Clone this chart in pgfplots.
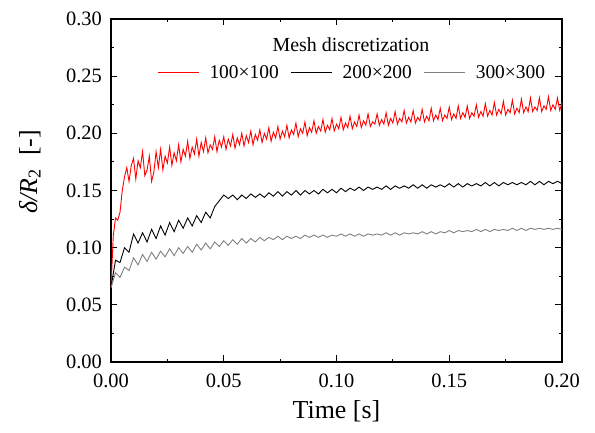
\documentclass[border=0pt]{standalone}
\usepackage{fontspec}
\setmainfont{Liberation Serif}
\usepackage{pgfplots}
\usepackage{pgfplotstable}
\pgfplotsset{compat=1.18}

% 100x100 mesh
\pgfplotstableread[row sep=\\]{
t y\\
0.000 0.065\\ 0.001 0.110\\ 0.002 0.126\\ 0.003 0.124\\ 0.004 0.131\\ 0.005 0.150\\ 0.006 0.162\\ 0.007 0.170\\ 0.008 0.158\\ 0.009 0.172\\
0.010 0.178\\ 0.011 0.160\\ 0.012 0.176\\ 0.013 0.170\\ 0.014 0.184\\ 0.015 0.163\\ 0.016 0.168\\ 0.017 0.180\\ 0.018 0.158\\ 0.019 0.166\\
0.020 0.184\\ 0.021 0.170\\ 0.022 0.186\\ 0.023 0.168\\ 0.024 0.180\\ 0.025 0.174\\ 0.026 0.188\\ 0.027 0.172\\ 0.028 0.183\\ 0.029 0.176\\
0.030 0.190\\ 0.031 0.175\\ 0.032 0.186\\ 0.033 0.180\\ 0.034 0.193\\ 0.035 0.178\\ 0.036 0.188\\ 0.037 0.182\\ 0.038 0.195\\ 0.039 0.180\\
0.040 0.192\\ 0.041 0.184\\ 0.042 0.196\\ 0.043 0.183\\ 0.044 0.190\\ 0.045 0.186\\ 0.046 0.197\\ 0.047 0.184\\ 0.048 0.194\\ 0.049 0.188\\
0.050 0.197\\ 0.051 0.186\\ 0.052 0.195\\ 0.053 0.189\\ 0.054 0.199\\ 0.055 0.187\\ 0.056 0.196\\ 0.057 0.190\\ 0.058 0.200\\ 0.059 0.189\\
0.060 0.198\\ 0.061 0.192\\ 0.062 0.202\\ 0.063 0.190\\ 0.064 0.199\\ 0.065 0.194\\ 0.066 0.203\\ 0.067 0.192\\ 0.068 0.200\\ 0.069 0.195\\
0.070 0.205\\ 0.071 0.193\\ 0.072 0.201\\ 0.073 0.196\\ 0.074 0.206\\ 0.075 0.195\\ 0.076 0.202\\ 0.077 0.197\\ 0.078 0.207\\ 0.079 0.196\\
0.080 0.203\\ 0.081 0.199\\ 0.082 0.209\\ 0.083 0.197\\ 0.084 0.204\\ 0.085 0.200\\ 0.086 0.210\\ 0.087 0.198\\ 0.088 0.205\\ 0.089 0.201\\
0.090 0.211\\ 0.091 0.200\\ 0.092 0.206\\ 0.093 0.202\\ 0.094 0.212\\ 0.095 0.201\\ 0.096 0.207\\ 0.097 0.203\\ 0.098 0.213\\ 0.099 0.202\\
0.100 0.208\\ 0.101 0.204\\ 0.102 0.214\\ 0.103 0.203\\ 0.104 0.209\\ 0.105 0.205\\ 0.106 0.215\\ 0.107 0.204\\ 0.108 0.210\\ 0.109 0.206\\
0.110 0.216\\ 0.111 0.205\\ 0.112 0.211\\ 0.113 0.207\\ 0.114 0.217\\ 0.115 0.206\\ 0.116 0.210\\ 0.117 0.208\\ 0.118 0.217\\ 0.119 0.207\\
0.120 0.212\\ 0.121 0.208\\ 0.122 0.218\\ 0.123 0.207\\ 0.124 0.213\\ 0.125 0.209\\ 0.126 0.219\\ 0.127 0.208\\ 0.128 0.213\\ 0.129 0.210\\
0.130 0.220\\ 0.131 0.209\\ 0.132 0.214\\ 0.133 0.210\\ 0.134 0.220\\ 0.135 0.209\\ 0.136 0.214\\ 0.137 0.211\\ 0.138 0.221\\ 0.139 0.210\\
0.140 0.215\\ 0.141 0.211\\ 0.142 0.222\\ 0.143 0.211\\ 0.144 0.216\\ 0.145 0.212\\ 0.146 0.222\\ 0.147 0.211\\ 0.148 0.216\\ 0.149 0.213\\
0.150 0.223\\ 0.151 0.212\\ 0.152 0.217\\ 0.153 0.213\\ 0.154 0.224\\ 0.155 0.213\\ 0.156 0.218\\ 0.157 0.214\\ 0.158 0.224\\ 0.159 0.213\\
0.160 0.218\\ 0.161 0.215\\ 0.162 0.225\\ 0.163 0.214\\ 0.164 0.219\\ 0.165 0.215\\ 0.166 0.226\\ 0.167 0.215\\ 0.168 0.220\\ 0.169 0.216\\
0.170 0.227\\ 0.171 0.216\\ 0.172 0.221\\ 0.173 0.217\\ 0.174 0.228\\ 0.175 0.216\\ 0.176 0.221\\ 0.177 0.218\\ 0.178 0.229\\ 0.179 0.217\\
0.180 0.222\\ 0.181 0.218\\ 0.182 0.230\\ 0.183 0.218\\ 0.184 0.223\\ 0.185 0.219\\ 0.186 0.231\\ 0.187 0.219\\ 0.188 0.223\\ 0.189 0.220\\
0.190 0.231\\ 0.191 0.219\\ 0.192 0.224\\ 0.193 0.221\\ 0.194 0.232\\ 0.195 0.220\\ 0.196 0.225\\ 0.197 0.221\\ 0.198 0.231\\ 0.199 0.220\\
0.200 0.227\\
}\redtab

% 200x200 and 300x300 meshes
\pgfplotstableread[row sep=\\]{
t b g\\
0.000 0.065 0.065\\ 0.002 0.089 0.078\\ 0.004 0.087 0.074\\ 0.006 0.100 0.083\\ 0.008 0.096 0.080\\
0.010 0.112 0.091\\ 0.012 0.104 0.085\\ 0.014 0.113 0.094\\ 0.016 0.105 0.088\\ 0.018 0.116 0.096\\
0.020 0.108 0.090\\ 0.022 0.119 0.097\\ 0.024 0.111 0.092\\ 0.026 0.122 0.099\\ 0.028 0.114 0.093\\
0.030 0.124 0.100\\ 0.032 0.117 0.095\\ 0.034 0.126 0.101\\ 0.036 0.119 0.096\\ 0.038 0.128 0.103\\
0.040 0.122 0.098\\ 0.042 0.131 0.104\\ 0.044 0.126 0.099\\ 0.046 0.136 0.105\\ 0.048 0.141 0.101\\
0.050 0.146 0.106\\ 0.052 0.143 0.102\\ 0.054 0.146 0.107\\ 0.056 0.142 0.103\\ 0.058 0.146 0.108\\
0.060 0.143 0.104\\ 0.062 0.147 0.108\\ 0.064 0.144 0.105\\ 0.066 0.147 0.109\\ 0.068 0.144 0.106\\
0.070 0.148 0.109\\ 0.072 0.145 0.107\\ 0.074 0.149 0.110\\ 0.076 0.145 0.107\\ 0.078 0.149 0.110\\
0.080 0.146 0.108\\ 0.082 0.150 0.110\\ 0.084 0.146 0.108\\ 0.086 0.150 0.111\\ 0.088 0.147 0.109\\
0.090 0.150 0.111\\ 0.092 0.147 0.109\\ 0.094 0.151 0.111\\ 0.096 0.148 0.109\\ 0.098 0.151 0.111\\
0.100 0.148 0.110\\ 0.102 0.152 0.112\\ 0.104 0.149 0.110\\ 0.106 0.152 0.112\\ 0.108 0.150 0.110\\
0.110 0.153 0.112\\ 0.112 0.150 0.110\\ 0.114 0.153 0.112\\ 0.116 0.151 0.111\\ 0.118 0.153 0.112\\
0.120 0.151 0.111\\ 0.122 0.154 0.113\\ 0.124 0.151 0.111\\ 0.126 0.154 0.113\\ 0.128 0.152 0.111\\
0.130 0.154 0.113\\ 0.132 0.152 0.112\\ 0.134 0.155 0.113\\ 0.136 0.152 0.112\\ 0.138 0.155 0.114\\
0.140 0.152 0.112\\ 0.142 0.155 0.114\\ 0.144 0.153 0.112\\ 0.146 0.155 0.114\\ 0.148 0.153 0.113\\
0.150 0.156 0.115\\ 0.152 0.153 0.113\\ 0.154 0.156 0.115\\ 0.156 0.153 0.114\\ 0.158 0.156 0.115\\
0.160 0.154 0.114\\ 0.162 0.156 0.116\\ 0.164 0.154 0.114\\ 0.166 0.157 0.116\\ 0.168 0.154 0.114\\
0.170 0.157 0.116\\ 0.172 0.154 0.115\\ 0.174 0.157 0.116\\ 0.176 0.155 0.115\\ 0.178 0.157 0.117\\
0.180 0.155 0.115\\ 0.182 0.157 0.117\\ 0.184 0.155 0.115\\ 0.186 0.158 0.117\\ 0.188 0.155 0.116\\
0.190 0.158 0.117\\ 0.192 0.155 0.116\\ 0.194 0.158 0.117\\ 0.196 0.156 0.116\\ 0.198 0.158 0.117\\
0.200 0.156 0.116\\
}\finetab

\begin{document}
\begin{tikzpicture}
  \path[use as bounding box] (-111bp,-71bp) rectangle (484bp,362bp);
  \begin{axis}[
      at={(0,0)}, anchor=south west,
      scale only axis,
      width=451bp, height=343bp,
      xmin=0, xmax=0.2,
      ymin=0, ymax=0.3,
      xtick={0,0.05,0.1,0.15,0.2},
      xticklabels={0.00,0.05,0.10,0.15,0.20},
      ytick={0,0.05,0.1,0.15,0.2,0.25,0.3},
      yticklabels={0.00,0.05,0.10,0.15,0.20,0.25,0.30},
      minor x tick num=1, minor y tick num=1,
      tick align=inside,
      major tick length=6.5bp, minor tick length=3.5bp,
      axis line style={line width=1.1bp},
      every tick/.style={black, line width=1bp},
      tick label style={font=\fontsize{20.5}{24}\selectfont},
      every x tick label/.append style={anchor=base, yshift=-25bp},
      every y tick label/.append style={anchor=east, inner sep=0pt, xshift=-9bp},
      every axis x label/.style={at={(axis description cs:0.5,0)}, anchor=base, yshift=-56bp},
      every axis y label/.style={at={(axis description cs:-0.18,0.555)}, anchor=center, rotate=90},
      label style={font=\fontsize{26}{30}\selectfont},
      xlabel={Time [s]},
      ylabel={\textit{δ/R}\textsubscript{2}\ \ [-]},
      legend columns=3,
      legend style={at={(rel axis cs:0.534,0.843)}, anchor=center, draw=none, fill=none,
        font=\fontsize{19.5}{22}\selectfont, nodes={inner sep=1bp},
        /tikz/every odd column/.append style={column sep=9bp},
        /tikz/every even column/.append style={column sep=11bp}},
      legend image code/.code={\draw[#1] (0bp,0bp) -- (41bp,0bp);},
    ]
    \addplot[red, line width=0.9bp] table[x=t, y=y] {\redtab};
    \addplot[black, line width=0.9bp] table[x=t, y=b] {\finetab};
    \addplot[gray, line width=0.9bp] table[x=t, y=g] {\finetab};
    \legend{100×100, 200×200, 300×300}
    \node[font=\fontsize{20}{24}\selectfont] at (rel axis cs:0.532,0.924) {Mesh discretization};
  \end{axis}
\end{tikzpicture}
\end{document}
